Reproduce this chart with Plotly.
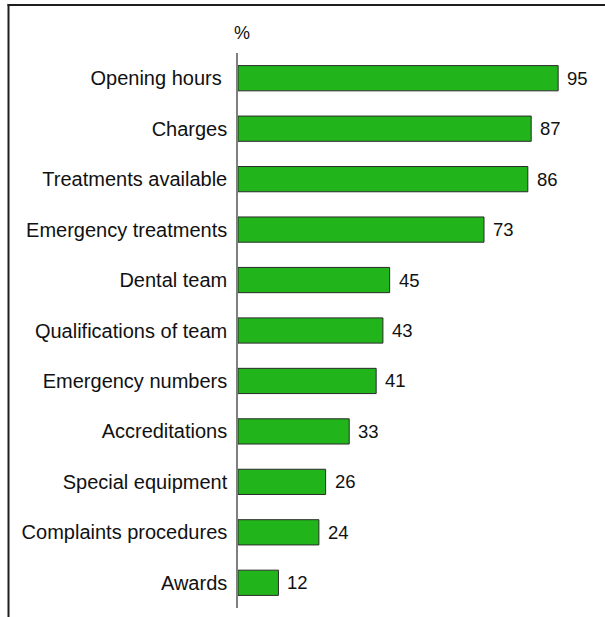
import plotly.graph_objects as go

categories = [
    "Opening hours ",
    "Charges",
    "Treatments available",
    "Emergency treatments",
    "Dental team",
    "Qualifications of team",
    "Emergency numbers",
    "Accreditations",
    "Special equipment",
    "Complaints procedures",
    "Awards",
]
values = [95, 87, 86, 73, 45, 43, 41, 33, 26, 24, 12]
unit_label = "%"

W, H = 605, 617
ML, MR, MT, MB = 238, 30, 53, 9
PW = W - ML - MR
PH = H - MT - MB

FONT = dict(family="Liberation Sans, Arial, sans-serif", size=20, color="#111111")

fig = go.Figure(
    go.Bar(
        x=values,
        y=categories,
        orientation="h",
        marker=dict(color="#21b51b", line=dict(color="#2a2a2a", width=1)),
        hoverinfo="skip",
    )
)

# value labels just past each bar end
for c, v in zip(categories, values):
    fig.add_annotation(
        x=v, y=c, xref="x", yref="y", text=str(v), showarrow=False,
        xanchor="left", yanchor="middle", xshift=7,
        font=dict(FONT, size=18.5),
    )

# unit label above the category axis
fig.add_annotation(
    x=(242 - ML) / PW, y=1 + (MT - 33) / PH, xref="paper", yref="paper",
    text=unit_label, showarrow=False, xanchor="center", yanchor="middle",
    font=dict(FONT, size=18),
)

# outer frame: top and left edges
def px_x(p):
    return (p - ML) / PW

def px_y(p):
    return 1 + (MT - p) / PH

fig.add_shape(type="line", xref="paper", yref="paper", layer="above",
              x0=px_x(7.5), x1=px_x(W), y0=px_y(5), y1=px_y(5),
              line=dict(color="#1e1e1e", width=2))
fig.add_shape(type="line", xref="paper", yref="paper", layer="above",
              x0=px_x(8.5), x1=px_x(8.5), y0=px_y(4), y1=px_y(H),
              line=dict(color="#1e1e1e", width=2))

fig.update_layout(
    width=W, height=H,
    margin=dict(l=ML, r=MR, t=MT, b=MB, pad=0),
    paper_bgcolor="white", plot_bgcolor="white",
    bargap=0.5,
    showlegend=False,
    font=FONT,
    xaxis=dict(range=[0, 100], visible=False, fixedrange=True),
    yaxis=dict(
        autorange="reversed",
        showline=True, linecolor="#808080", linewidth=1.5,
        showgrid=False, zeroline=False,
        ticks="", ticklabelstandoff=5,
        tickfont=FONT, fixedrange=True,
    ),
)

fig.write_html("out.html")
